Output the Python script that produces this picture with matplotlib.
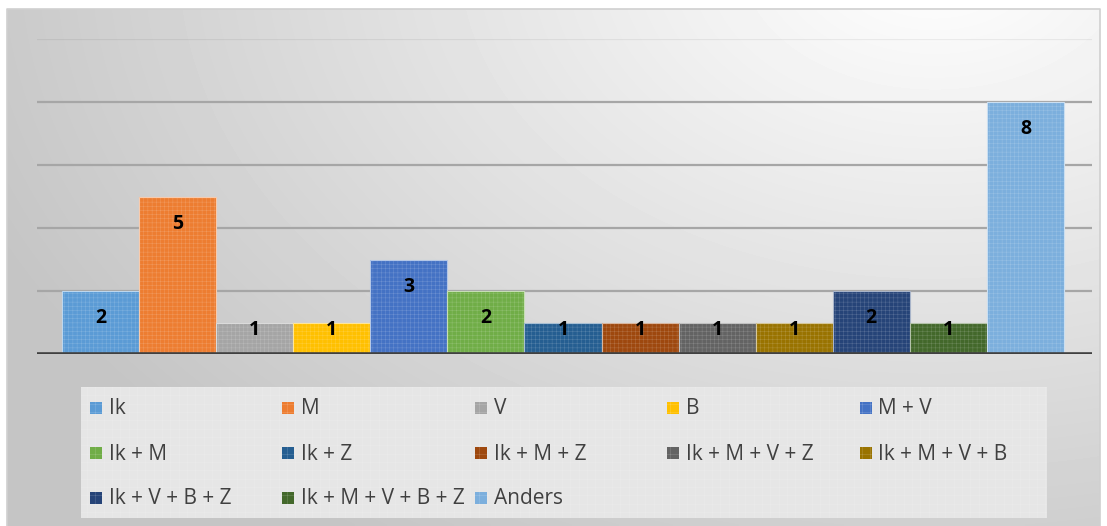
import numpy as np
import matplotlib
matplotlib.use("Agg")
import matplotlib.pyplot as plt
from matplotlib.patches import Rectangle
from matplotlib import colors as mcolors

categories = ["Ik", "M", "V", "B", "M + V", "Ik + M", "Ik + Z", "Ik + M + Z",
              "Ik + M + V + Z", "Ik + M + V + B", "Ik + V + B + Z",
              "Ik + M + V + B + Z", "Anders"]
values = [2, 5, 1, 1, 3, 2, 1, 1, 1, 1, 2, 1, 8]
bar_colors = ["#5B9BD5", "#ED7D31", "#A5A5A5", "#FFC000", "#4472C4", "#70AD47",
              "#255E91", "#9E480E", "#636363", "#997300", "#264478", "#43682B",
              "#7CAFDD"]
yticks = [0, 2, 4, 6, 8, 10]

W, H = 1107, 526
plt.rcParams['font.family'] = ['Open Sans', 'DejaVu Sans']
plt.rcParams['hatch.linewidth'] = 0.25

fig = plt.figure(figsize=(W / 100, H / 100), dpi=100)
fig.patch.set_facecolor("white")

def fx(px):
    return px / W

def fy(py):
    return 1 - py / H

def tint(c, a):
    return tuple((1 - a) * np.array(mcolors.to_rgb(c)) + a)

# background gradient chart area
bg = fig.add_axes([0, 0, 1, 1], zorder=0)
bg.set_xlim(0, W)
bg.set_ylim(H, 0)
bg.axis("off")
gx, gy = np.meshgrid(np.linspace(0, 1, 300), np.linspace(0, 1, 150))
cx, cy = 0.85, -0.1
d = np.sqrt(((gx - cx) * 1.0) ** 2 + ((gy - cy) * 0.7) ** 2)
val = 1.0 - 0.23 * np.clip(d / 0.95, 0, 1)
bg.imshow(val, cmap="gray", vmin=0, vmax=1, extent=[7, 1100, 526, 9],
          aspect="auto", interpolation="bilinear")
bg.plot([7, 7, 1100, 1100], [526, 9, 9, 526], color="#d0d0d0", lw=1.2)

# plot area
left, right = 37, 1092
top, base = 39, 354
ax = fig.add_axes([fx(left), fy(base), fx(right - left), (base - top) / H], zorder=2)
ax.patch.set_alpha(0)
n = len(values)
x = np.arange(n)
ax.set_xlim(-0.5 - 0.324, n - 0.5 + 0.363)
ax.set_ylim(0, 10)
for s in ax.spines.values():
    s.set_visible(False)
ax.set_xticks([])
ax.set_yticks([])

for t in yticks[1:]:
    if t == 10:
        ax.axhline(t, color="black", alpha=0.06, lw=1.6, zorder=1)
    else:
        ax.axhline(t, color="#a6a6a6", lw=1.6, zorder=1)

for xi, v, c in zip(x, values, bar_colors):
    ax.bar(xi, v, width=1.0, color=c, edgecolor=tint(c, 0.3), linewidth=0.0,
           hatch="++++", zorder=3)
    ax.bar(xi, v, width=1.0, color="none", edgecolor=tint(c, 0.6),
           linewidth=0.8, zorder=3)
    ypos = max(v - 0.86, 0.76)
    ax.text(xi, ypos, str(v), ha="center", va="center", fontsize=14,
            fontweight="bold", color="black", zorder=5)

ax.axhline(0, color="#404040", lw=2.6, zorder=6)

# legend box
lg_l, lg_t, lg_r, lg_b = 81, 387, 1047, 518
bg.add_patch(Rectangle((lg_l, lg_t), lg_r - lg_l, lg_b - lg_t,
                       facecolor="#e6e6e6", edgecolor="#ededed", lw=0,
                       hatch="++", zorder=2))
col_x = [90, 282, 474.5, 667, 859.5]
row_y = [408, 453, 498]
for i, (lab, c) in enumerate(zip(categories, bar_colors)):
    r, cc = divmod(i, 5)
    x0, y0 = col_x[cc], row_y[r]
    bg.add_patch(Rectangle((x0, y0 - 6), 12, 12, facecolor=c,
                           edgecolor=tint(c, 0.35), lw=0, hatch="++", zorder=3))
    bg.text(x0 + 19, y0 + 1, lab, ha="left", va="center", fontsize=15,
            color="#404040", zorder=4)

fig.savefig("out.png", dpi=100)
